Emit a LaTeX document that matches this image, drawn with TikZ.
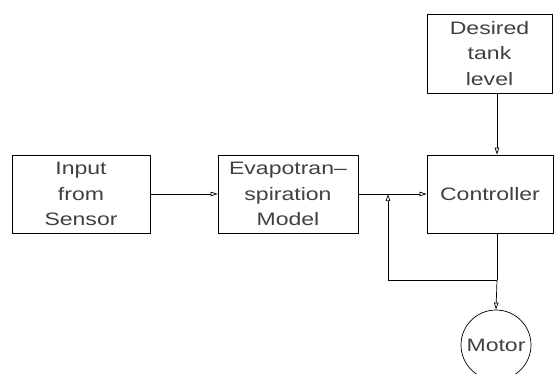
\documentclass[tikz,border=0pt]{standalone}
\usepackage{fontspec}
\setmainfont{Liberation Sans}[FakeStretch=1.28]
\usetikzlibrary{arrows.meta}
\begin{document}
\begin{tikzpicture}[x=1pt,y=-1pt,
  box/.style={draw, line width=0.7pt, inner sep=0pt, align=center,
    font=\fontsize{18}{25.5}\selectfont, text=black!75},
  arr/.style={-{Triangle[open,length=7pt,width=4.5pt]}, line width=0.7pt},
  ln/.style={line width=0.7pt}]
\useasboundingbox (0,0) rectangle (557,374);
\node[box, minimum width=138pt, minimum height=78pt] (inp) at (81,194) {Input\\from\\Sensor};
\node[box, minimum width=140pt, minimum height=78pt] (evap) at (288,194) {Evapotran--\\spiration\\Model};
\node[box, minimum width=126pt, minimum height=78pt] (ctl) at (490,194) {Controller};
\node[box, minimum width=125pt, minimum height=79pt] (des) at (489.5,53.5) {Desired\\tank\\level};
\node[box, circle, minimum size=70pt] (mot) at (496,345) {Motor};
\coordinate (j) at (497,280);
\coordinate (fb) at (388,280);
\draw[arr] (inp.east) -- (evap.west);
\draw[arr] (evap.east) -- (ctl.west);
\draw[arr] (des.south -| j) -- (ctl.north -| j);
\draw[ln] (ctl.south -| j) -- (j);
\draw[arr] (j) -- (mot.north);
\draw[arr] (j) -- (fb) -- (fb |- evap.east);
\end{tikzpicture}
\end{document}
